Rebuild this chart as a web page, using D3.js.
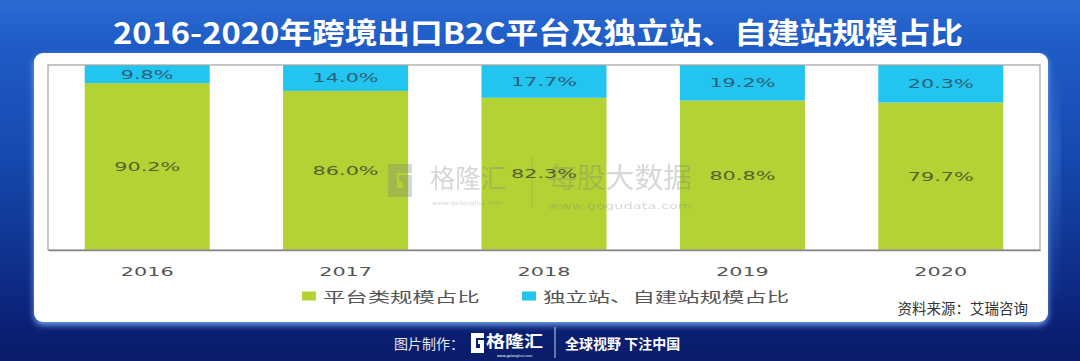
<!DOCTYPE html>
<html>
<head>
<meta charset="utf-8">
<script src="https://cdn.jsdelivr.net/npm/d3@7/dist/d3.min.js"></script>
<style>
  html, body { margin: 0; padding: 0; background: #0b1f70; }
  svg { display: block; }
</style>
</head>
<body>
<div id="chart"></div>
<script>
// ---------------- data ----------------
const years = ["2016", "2017", "2018", "2019", "2020"];
const platformShare = [90.2, 86.0, 82.3, 80.8, 79.7];
const independentShare = [9.8, 14.0, 17.7, 19.2, 20.3];
const seriesNames = ["平台类规模占比", "独立站、自建站规模占比"];
const yDomain = [0, 100];
const titleText = "2016-2020年跨境出口B2C平台及独立站、自建站规模占比";
const sourceText = "资料来源：艾瑞咨询";

// ---------------- layout ----------------
const W = 1080, H = 361;
const plot = { left: 48, right: 1040, top: 65, bottom: 250 };
const stretch = 1.6; // the chart's text is horizontally stretched in the reference
const colors = ["#b3d234", "#22c5f0"];
const labelColors = ["#58622f", "#2f6079"];
const CJK = "'Noto Sans CJK SC', 'Noto Sans', sans-serif";
const LAT = "'DejaVu Sans', Verdana, sans-serif";

const svg = d3.select("#chart").append("svg")
  .attr("width", W).attr("height", H);

const defs = svg.append("defs");
const bg = defs.append("linearGradient").attr("id", "bg")
  .attr("x1", 0).attr("y1", 0).attr("x2", 0).attr("y2", 1);
[[0, "#2a6bd2"], [0.12, "#1f5cc6"], [0.45, "#1648ad"], [0.8, "#0d2a84"], [0.9, "#0b2074"], [1, "#0a1c6a"]]
  .forEach(([o, c]) => bg.append("stop").attr("offset", o).attr("stop-color", c));
const side = defs.append("linearGradient").attr("id", "side")
  .attr("x1", 0).attr("y1", 0).attr("x2", 0).attr("y2", 1);
[[0, "rgba(90,150,240,0)"], [0.3, "rgba(90,150,240,0.35)"], [1, "rgba(90,150,240,0)"]]
  .forEach(([o, c]) => side.append("stop").attr("offset", o).attr("stop-color", c));
const glow = defs.append("filter").attr("id", "glow")
  .attr("x", "-5%").attr("y", "-5%").attr("width", "110%").attr("height", "115%");
glow.append("feDropShadow").attr("dx", 0).attr("dy", 3).attr("stdDeviation", 3)
  .attr("flood-color", "#7fb4ff").attr("flood-opacity", 0.9);
const blur = defs.append("filter").attr("id", "blur");
blur.append("feGaussianBlur").attr("stdDeviation", 4);

// background
svg.append("rect").attr("width", W).attr("height", H).attr("fill", "url(#bg)");
svg.append("rect").attr("x", 1050).attr("y", 70).attr("width", 10).attr("height", 240)
  .attr("fill", "url(#side)").attr("filter", "url(#blur)");

// title
svg.append("text")
  .attr("x", 538).attr("y", 31)
  .attr("text-anchor", "middle").attr("dominant-baseline", "central")
  .attr("font-family", CJK).attr("font-weight", 700).attr("font-size", 29)
  .attr("fill", "#ffffff")
  .attr("textLength", 850).attr("lengthAdjust", "spacingAndGlyphs")
  .text(titleText);

// white panel
svg.append("rect")
  .attr("x", 34).attr("y", 53).attr("width", 1014).attr("height", 269)
  .attr("rx", 9).attr("fill", "#ffffff").attr("filter", "url(#glow)");

// ---------------- scales ----------------
const x = d3.scaleBand().domain(years)
  .range([plot.left, plot.right]).paddingInner(0.37).paddingOuter(0.185);
const y = d3.scaleLinear().domain(yDomain).range([plot.bottom, plot.top]);

const rows = years.map((yr, i) => ({ year: yr, platform: platformShare[i], independent: independentShare[i] }));
const keys = ["platform", "independent"];
const stacked = d3.stack().keys(keys)(rows);

// bars
const layers = svg.append("g").selectAll("g").data(stacked).join("g")
  .attr("fill", (d, i) => colors[i]);
layers.selectAll("rect").data(d => d).join("rect")
  .attr("x", d => x(d.data.year))
  .attr("width", x.bandwidth())
  .attr("y", d => y(d[1]))
  .attr("height", d => y(d[0]) - y(d[1]));

// watermark (faint, drawn over the bars as in the reference)
const wm = svg.append("g").attr("opacity", 0.3).attr("fill", "#7d7d7d");
wm.append("path")
  .attr("d", "M388,164 h24 v9 h-15 v15 h6 v-6 h-4 v-7 h13 v22 h-24 z");
wm.append("text").attr("x", 430).attr("y", 188)
  .attr("font-family", CJK).attr("font-size", 26)
  .attr("textLength", 76).attr("lengthAdjust", "spacingAndGlyphs").text("格隆汇");
wm.append("text").attr("x", 432).attr("y", 205)
  .attr("font-family", LAT).attr("font-size", 6)
  .attr("textLength", 70).attr("lengthAdjust", "spacingAndGlyphs").text("www.gelonghui.com");
wm.append("line").attr("x1", 532).attr("x2", 532).attr("y1", 158).attr("y2", 207)
  .attr("stroke", "#7d7d7d").attr("stroke-width", 1);
wm.append("text").attr("x", 548).attr("y", 188)
  .attr("font-family", CJK).attr("font-size", 28)
  .attr("textLength", 144).attr("lengthAdjust", "spacingAndGlyphs").text("每股大数据");
wm.append("text").attr("x", 548).attr("y", 209)
  .attr("font-family", LAT).attr("font-size", 9)
  .attr("textLength", 144).attr("lengthAdjust", "spacingAndGlyphs").text("www.gogudata.com");

// value labels
stacked.forEach((layer, li) => {
  svg.append("g").selectAll("g").data(layer).join("g")
    .attr("transform", d => `translate(${x(d.data.year) + x.bandwidth() / 2},${(y(d[0]) + y(d[1])) / 2}) scale(${stretch},1)`)
    .append("text")
    .attr("text-anchor", "middle").attr("dominant-baseline", "central")
    .attr("font-family", LAT).attr("font-size", 13)
    .attr("fill", labelColors[li])
    .text(d => (d[1] - d[0]).toFixed(1) + "%");
});

// frame
svg.append("rect")
  .attr("x", plot.left).attr("y", plot.top)
  .attr("width", plot.right - plot.left).attr("height", plot.bottom - plot.top)
  .attr("fill", "none").attr("stroke", "#a0a0a0").attr("stroke-width", 1.2);

// x axis
const xAxis = svg.append("g")
  .attr("transform", `translate(0,${plot.bottom})`)
  .call(d3.axisBottom(x).tickSize(0).tickPadding(17));
xAxis.select(".domain").attr("stroke", "#888").attr("stroke-width", 1.4);
xAxis.selectAll(".tick text")
  .attr("font-family", LAT).attr("font-size", 13).attr("fill", "#555")
  .attr("transform", `scale(${stretch},1)`);

// legend
const legendItems = [{ x: 302, name: seriesNames[0], c: colors[0] }, { x: 522, name: seriesNames[1], c: colors[1] }];
const lg = svg.append("g").selectAll("g").data(legendItems).join("g")
  .attr("transform", d => `translate(${d.x},296)`);
lg.append("rect").attr("x", 0).attr("y", -4.5).attr("width", 14).attr("height", 9).attr("fill", d => d.c);
lg.append("g").attr("transform", `translate(21,0) scale(${stretch},1)`)
  .append("text")
  .attr("dominant-baseline", "central")
  .attr("font-family", CJK).attr("font-size", 14).attr("fill", "#555")
  .text(d => d.name);

// source
svg.append("text")
  .attr("x", 1028).attr("y", 307)
  .attr("text-anchor", "end").attr("dominant-baseline", "central")
  .attr("font-family", CJK).attr("font-size", 14.5).attr("fill", "#333")
  .text(sourceText);

// footer
const ft = svg.append("g");
ft.append("text").attr("x", 394).attr("y", 343)
  .attr("dominant-baseline", "central")
  .attr("font-family", CJK).attr("font-size", 14).attr("fill", "#e6e9f2")
  .text("图片制作：");
ft.append("path")
  .attr("d", "M471,333 h13 v5 h-8 v10 h4 v-4 h-2 v-4 h6 v13 h-13 z")
  .attr("fill", "#ffffff");
ft.append("text").attr("x", 486).attr("y", 340)
  .attr("dominant-baseline", "central")
  .attr("font-family", CJK).attr("font-weight", 700).attr("font-size", 16).attr("fill", "#ffffff")
  .attr("textLength", 57).attr("lengthAdjust", "spacingAndGlyphs")
  .text("格隆汇");
ft.append("text").attr("x", 497).attr("y", 357)
  .attr("font-family", LAT).attr("font-size", 3.5).attr("fill", "#ffffff")
  .text("www.gelonghui.com");
ft.append("line").attr("x1", 555).attr("x2", 555).attr("y1", 327).attr("y2", 358)
  .attr("stroke", "#c8d0e8").attr("stroke-width", 1);
ft.append("text").attr("x", 565).attr("y", 343)
  .attr("dominant-baseline", "central")
  .attr("font-family", CJK).attr("font-weight", 700).attr("font-size", 14).attr("fill", "#ffffff")
  .text("全球视野 下注中国");
</script>
</body>
</html>
